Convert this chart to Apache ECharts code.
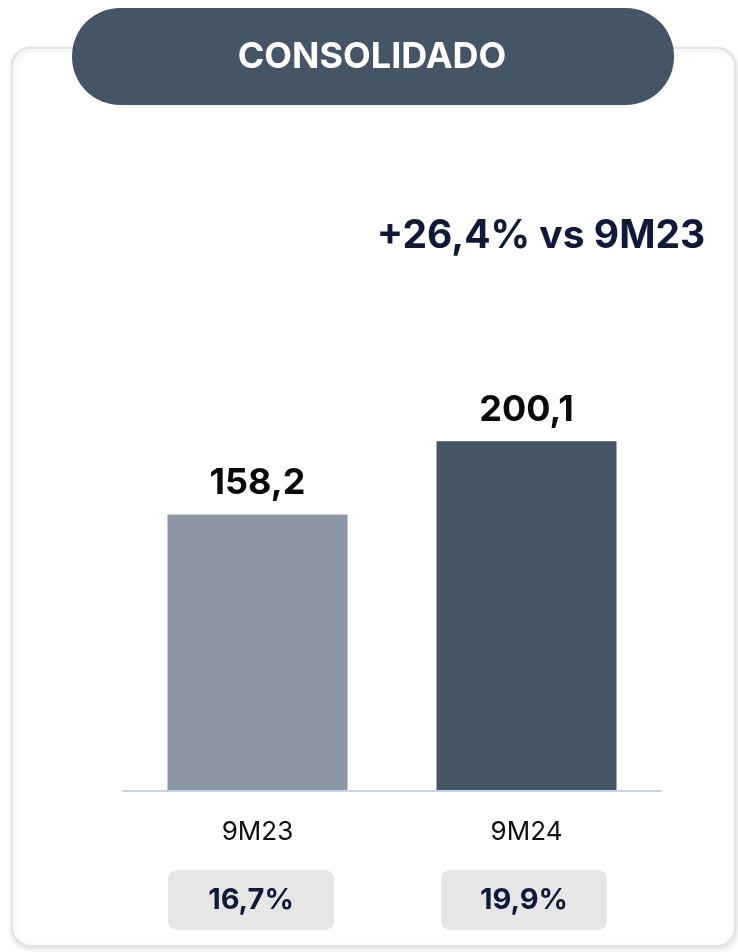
<!DOCTYPE html>
<html>
<head>
<meta charset="utf-8">
<script src="https://cdn.jsdelivr.net/npm/echarts@6/dist/echarts.min.js"></script>
<style>
html,body{margin:0;padding:0;background:#fff;}
#c{width:738px;height:952px;}
</style>
</head>
<body>
<div id="c"></div>
<script>
const categories = ['9M23', '9M24'];
const values = [158.2, 200.1];
const valueLabels = ['158,2', '200,1'];
const margins = ['16,7%', '19,9%'];
const barColors = ['#8c96a4', '#465566'];
const headline = '+26,4% vs 9M23';
const sectionTitle = 'CONSOLIDADO';

const FONT = 'Inter, "Liberation Sans", Arial, sans-serif';
const chart = echarts.init(document.getElementById('c'), null, {renderer: 'canvas'});

chart.setOption({
  animation: false,
  backgroundColor: '#ffffff',
  graphic: [
    {
      type: 'rect', z: 0,
      shape: {x: 12, y: 48, width: 723, height: 898, r: 18},
      style: {fill: '#ffffff', stroke: '#e2e2e2', lineWidth: 2,
        shadowColor: 'rgba(0,0,0,0.12)', shadowBlur: 6, shadowOffsetX: 1, shadowOffsetY: 2}
    },
    {
      type: 'rect', z: 1,
      shape: {x: 72, y: 8, width: 602, height: 97, r: 48},
      style: {fill: '#465566'}
    },
    {
      type: 'text', z: 2,
      x: 372, y: 57,
      style: {text: sectionTitle, fill: '#ffffff', font: 'bold 36px ' + FONT,
        align: 'center', verticalAlign: 'middle'}
    },
    {
      type: 'text', z: 2,
      x: 541, y: 236,
      style: {text: headline, fill: '#0e1a38', font: 'bold 39px ' + FONT,
        align: 'center', verticalAlign: 'middle'}
    }
  ],
  grid: [
    {left: 123, width: 538, top: 354, bottom: 161, containLabel: false},
    {left: 114.5, width: 546, top: 354, bottom: 161, containLabel: false}
  ],
  xAxis: [
    {
      type: 'category', gridIndex: 0, data: categories,
      axisLine: {show: true, lineStyle: {color: '#c0d5f4', width: 2}},
      axisTick: {show: false},
      axisLabel: {margin: 28, color: '#111111', fontSize: 26, fontFamily: FONT, fontWeight: 'normal'},
      z: 5
    },
    {
      type: 'category', gridIndex: 1, data: margins,
      axisLine: {show: false}, axisTick: {show: false},
      axisLabel: {
        margin: 79, color: '#0e1a38', fontSize: 29, fontWeight: 'bold', fontFamily: FONT,
        backgroundColor: '#e6e6e6', borderRadius: 9, width: 166, height: 60,
        lineHeight: 60, align: 'center', verticalAlign: 'top'
      }
    }
  ],
  yAxis: [
    {type: 'value', gridIndex: 0, min: 0, max: 250, show: false, splitLine: {show: false}},
    {type: 'value', gridIndex: 1, min: 0, max: 250, show: false, splitLine: {show: false}}
  ],
  series: [
    {
      type: 'bar', xAxisIndex: 0, yAxisIndex: 0,
      barWidth: 180,
      data: values.map((v, i) => ({value: v, itemStyle: {color: barColors[i]}})),
      label: {
        show: true, position: 'top', distance: 13,
        formatter: p => valueLabels[p.dataIndex],
        color: '#0a0a0a', fontSize: 36, fontWeight: 'bold', fontFamily: FONT
      }
    }
  ]
});
</script>
</body>
</html>
